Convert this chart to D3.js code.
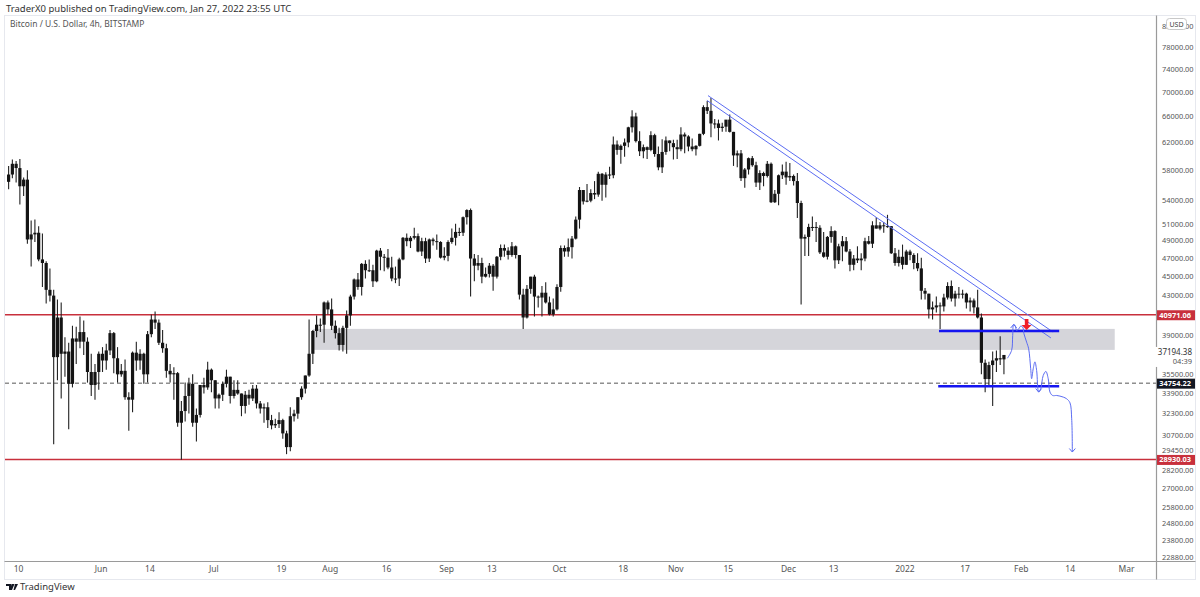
<!DOCTYPE html>
<html>
<head>
<meta charset="utf-8">
<script src="https://cdn.jsdelivr.net/npm/d3@7"></script>
<style>
  body { margin: 0; background: #fff; }
  text { font-family: "Noto Sans", "DejaVu Sans", sans-serif; }
</style>
</head>
<body>
<script>
// ---- data ----
var firstDay = "2021-05-07";   // one daily candle per day from here
// [open, high, low, close]
var ohlc = [
  // May
  [56400,58600,55400,57400],[57400,59500,56900,58900],[58900,59300,56300,58300],[58300,59600,53400,55800],
  [55800,57000,54500,56700],[56700,58000,48600,49100],[49100,51400,46000,49700],[49700,51500,48800,49900],
  [49900,50700,46600,46800],[46800,49800,43800,46400],[46400,46600,42100,43500],[43500,45800,42300,42900],
  [42900,43500,30000,37000],[37000,42500,35000,40700],[40700,42200,33500,37300],[37300,38800,35300,37500],
  [37500,38300,31100,34700],[34700,39900,34400,38700],[38700,39800,36400,38400],[38400,40800,37800,39300],
  [39300,40400,37200,38400],[38400,38800,34800,35700],[35700,37300,33700,34600],[34600,36400,33400,35700],
  [35700,37500,34200,37300],
  // Jun
  [37300,37900,35700,36700],[36700,38200,35900,37600],[37600,39500,37200,39200],[39200,39300,35600,36900],
  [36900,37900,34800,35500],[35500,36400,35300,35800],[35800,36800,33400,33600],[33600,34000,31000,33400],
  [33400,37500,32400,37400],[37400,38400,35800,36700],[36700,37700,35900,37300],[37300,37400,34700,35500],
  [35500,39400,34800,39100],[39100,41000,38800,40500],[40500,41300,39600,40200],[40200,40500,38100,38300],
  [38300,39500,37400,37800],[37800,38200,35200,35800],[35800,36400,34800,35500],[35500,36100,33400,35600],
  [35600,35700,31300,31600],[31600,33300,28900,32500],[32500,34800,31700,33700],[33700,35200,32300,34700],
  [34700,35500,31300,31600],[31600,32700,30200,32200],[32200,34600,32000,34600],[34600,35200,33900,34400],
  [34400,36600,34200,35900],[35900,36000,34000,35000],
  // Jul
  [35000,35000,32700,33500],[33500,33900,32700,33800],[33800,34900,33300,34700],[34700,35900,34400,35300],
  [35300,35300,33100,33700],[33700,35000,33500,34200],[34200,35000,33800,33900],[33900,33900,32100,32900],
  [32900,34100,32300,33800],[33800,34200,33000,33500],[33500,34600,33300,34300],[34300,34600,32700,33100],
  [33100,33300,32300,32700],[32700,33100,31600,32800],[32800,33200,31200,31800],[31800,32200,31100,31400],
  [31400,31900,31200,31500],[31500,32400,31200,31800],[31800,31900,30400,30800],[30800,31000,29300,29800],
  [29800,32800,29500,32100],[32100,32600,31700,32300],[32300,33600,31900,33600],[33600,34500,33400,34300],
  [34300,35400,33900,35400],[35400,40500,35300,37300],[37300,39500,36400,39400],[39400,40900,38800,40000],
  [40000,40600,39300,40000],[40000,42300,38300,42200],[42200,42400,41000,41500],
  // Aug
  [41500,42600,39500,39900],[39900,40400,38700,39200],[39200,39700,37600,38100],[38100,39900,37500,39700],
  [39700,41400,37300,40900],[40900,43000,39900,42800],[42800,44700,42500,44600],[44600,45300,43500,43800],
  [43800,46400,42900,46300],[46300,46700,44700,45600],[45600,46800,45400,45600],[45600,46200,43800,44400],
  [44400,47900,44300,47800],[47800,48100,45600,47100],[47100,47400,45500,47000],[47000,48000,45700,45900],
  [45900,47100,44400,44700],[44700,46000,44200,44700],[44700,47000,43900,46800],[46800,49400,46700,49300],
  [49300,49800,48300,48900],[48900,49500,48100,49300],[49300,50500,49100,49500],[49500,49800,47600,47700],
  [47700,49300,47200,48900],[48900,49300,46400,46900],[46900,49200,46500,49100],[49100,49300,48400,48900],
  [48900,49700,47900,48800],[48800,48900,46900,47000],[47000,48200,46700,47200],
  // Sep
  [47200,49000,46600,48800],[48800,50400,48600,49300],[49300,51000,48400,50000],[50000,50500,49500,49900],
  [49900,51900,49500,51800],[51800,52800,50900,52700],[52700,52900,42800,46900],[46900,47400,44400,46100],
  [46100,47300,45600,46400],[46400,47000,44200,44900],[44900,45900,44800,45200],[45200,46400,44800,46100],
  [46100,46300,43400,44900],[44900,47200,44700,47100],[47100,48500,46700,48100],[48100,48500,47100,47800],
  [47800,48200,46800,47300],[47300,48800,47100,48300],[48300,48400,46900,47300],[47300,47300,42500,43000],
  [43000,43600,39600,40700],[40700,44000,40600,43600],[43600,44900,43100,44900],[44900,45100,40800,42800],
  [42800,42900,41700,42700],[42700,43900,40800,43200],[43200,44300,42100,42200],[42200,42800,40900,41000],
  [41000,42600,40800,41500],[41500,44100,41400,43800],
  // Oct
  [43800,48400,43300,48100],[48100,48400,47100,47700],[47700,49200,47100,48200],[48200,49500,46900,49200],
  [49200,51900,49100,51500],[51500,55700,50400,55300],[55300,55300,53400,53800],[53800,56100,53700,53900],
  [53900,55400,53700,54900],[54900,56500,54100,54700],[54700,57800,54400,57500],[57500,57600,53900,56000],
  [56000,57700,54300,57400],[57400,58500,56800,57300],[57300,62900,56900,61700],[61700,62300,60200,60900],
  [60900,61700,58900,61500],[61500,62600,59900,62000],[62000,64400,61300,64300],[64300,67000,63500,66000],
  [66000,66600,62000,62200],[62200,63700,60000,60700],[60700,61700,59700,61300],[61300,61400,59600,60900],
  [60900,63700,60700,63100],[63100,63300,59900,60300],[60300,61400,58000,58400],[58400,62500,57600,60600],
  [60600,62900,60200,62300],[62300,62300,60700,61900],[61900,62400,59500,61300],
  // Nov
  [61300,62400,59600,61000],[61000,64300,60700,63200],[63200,63500,60400,62900],[62900,63100,60700,61400],
  [61400,62600,60700,61000],[61000,61600,60100,61500],[61500,63300,61400,63300],[63300,67800,63100,67500],
  [67500,68500,66400,66900],[66900,69000,62800,64900],[64900,65600,64100,64900],[64900,65500,62300,64200],
  [64200,65000,63600,64400],[64400,65300,63600,65500],[65500,66300,63500,63600],[63600,63600,58600,60100],
  [60100,60800,58400,60400],[60400,60900,56500,56900],[56900,58300,55600,58100],[58100,59800,57400,59700],
  [59700,60000,58500,58700],[58700,59200,55700,56300],[56300,58000,55300,57600],[57600,57800,55800,57200],
  [57200,59300,57000,58900],[58900,59100,53600,53700],[53700,55300,53600,54800],[54800,57400,53300,57300],
  [57300,58800,56800,57800],[57800,59200,56000,57000],
  // Dec
  [57000,59000,56500,57200],[57200,57400,55900,56500],[56500,57600,51700,53600],[53600,53900,42000,49200],
  [49200,49700,47200,49400],[49400,51000,47200,50600],[50600,51900,50100,50600],[50600,51200,48800,50500],
  [50500,50800,47400,47600],[47600,50000,47000,47100],[47100,49500,46800,49400],[49400,50700,48700,50100],
  [50100,50200,45800,46700],[46700,48600,46300,48300],[48300,49500,46600,48900],[48900,49400,47600,47700],
  [47700,48000,45500,46200],[46200,47300,45600,46900],[46900,48300,46400,46700],[46700,47500,45600,46900],
  [46900,49300,46600,48900],[48900,49500,48500,48600],[48600,51300,48100,50800],[50800,51800,50400,50400],
  [50400,51200,50200,50800],[50800,51200,49900,50700],[50700,52100,50500,50700],[50700,50700,47400,47500],
  [47500,48100,46100,46400],[46400,47900,46000,47100],[47100,48500,45700,46200],
  // Jan
  [46200,47900,46200,47700],[47700,47900,46700,47300],[47300,47500,45700,46400],[46400,47500,45500,45800],
  [45800,47000,42500,43400],[43400,43700,42500,43100],[43100,43100,40600,41500],[41500,42300,40500,41700],
  [41700,42800,41200,41900],[41900,42200,39600,41800],[41800,43100,41300,42700],[42700,44300,42500,43900],
  [43900,44500,42300,42600],[42600,43400,41800,43100],[43100,43800,42600,43100],[43100,43500,42600,43100],
  [43100,43200,41600,42200],[42200,42700,41300,42400],[42400,42600,41100,41700],[41700,43500,40600,40700],
  [40700,41100,35500,36500],[36500,36800,34000,35100],[35100,36600,34600,36300],[36300,37500,32900,36700],
  [36700,37600,35700,36900],[36900,38900,36300,36800],[36800,37200,35500,37194.38]
];

var xTickDates  = ["2021-05-10","2021-06-01","2021-06-14","2021-07-01","2021-07-19","2021-08-01","2021-08-16",
                   "2021-09-01","2021-09-13","2021-10-01","2021-10-18","2021-11-01","2021-11-15","2021-12-01",
                   "2021-12-13","2022-01-01","2022-01-17","2022-02-01","2022-02-14","2022-03-01"];
var xTickLabels = ["10","Jun","14","Jul","19","Aug","16","Sep","13","Oct","18","Nov","15","Dec","13","2022","17","Feb","14","Mar"];

var priceTicks = [82000,78000,74000,70000,66000,62000,58000,54000,51000,49000,47000,45000,43000,39000,
                  35500,33900,32300,30700,29450,28200,27000,25800,24800,23800,22880];

var redLevels = [40971.06, 28930.03];
var dashedLevel = 34754.22;
var lastPrice = 37194.38;
var lastPriceTimer = "04:39";

var zoneDates = ["2021-07-27T12:00", "2022-02-26T00:00"];
var zonePrices = [39600, 37650];

var trendUpper = [["2021-11-09T17:00", 69400], ["2022-02-09T14:00", 39300]];
var trendLower = [["2021-11-09T10:00", 68600], ["2022-02-09T00:00", 38750]];

var supportUpper = [["2022-01-10T05:00", 39400], ["2022-02-11T05:00", 39400]];
var supportLower = [["2022-01-10T00:00", 34500], ["2022-02-11T05:00", 34500]];

var projection = [
  ["2022-01-28T10:00",36900],["2022-01-29T13:00",37600],["2022-01-29T20:00",38980],["2022-01-30T02:00",40020],
  ["2022-01-30T12:00",39920],["2022-01-30T21:00",39450],["2022-01-31T10:00",39600],["2022-01-31T23:00",39860],
  ["2022-02-01T12:00",39770],["2022-02-01T20:00",39140],["2022-02-02T13:00",38360],["2022-02-03T02:00",37750],
  ["2022-02-03T15:00",35980],["2022-02-03T21:00",35130],["2022-02-04T07:00",35980],["2022-02-04T18:00",36580],
  ["2022-02-05T05:00",35830],["2022-02-05T18:00",34020],["2022-02-06T07:00",34290],["2022-02-06T23:00",35400],
  ["2022-02-07T16:00",35750],["2022-02-08T07:00",35130],["2022-02-08T18:00",34020],["2022-02-09T11:00",33740],
  ["2022-02-10T13:00",33740],["2022-02-11T10:00",33690],["2022-02-12T07:00",33610],["2022-02-13T05:00",33470],
  ["2022-02-14T02:00",33150],["2022-02-14T13:00",31900],["2022-02-14T17:00",29450]
];
var projectionArrows = [[3, "up"], [17, "down"], [30, "down"]];

var sellMarker = ["2022-02-02T13:00", 39500];

// ---- setup ----
var width = 1200, height = 597;
var parseT = function(s){ return s.length == 10 ? d3.utcParse("%Y-%m-%d")(s) : d3.utcParse("%Y-%m-%dT%H:%M")(s); };

var svg = d3.select("body").append("svg")
            .attr("width", width).attr("height", height)
            .style("display", "block");

var plotLeft = 5, plotRight = 1156, plotTop = 15, plotBottom = 561;

var x = d3.scaleUtc()
          .domain([parseT("2021-05-10"), parseT("2022-03-01")])
          .range([18, 1126]);

var y = d3.scaleLog()
          .domain([22880, 78000])
          .range([557, 47]);

var trendColor = "#5b6cf2";
var red = "#c8303c";

svg.append("rect").attr("width", width).attr("height", height).attr("fill", "#fff");

// header
svg.append("text").attr("x", 6).attr("y", 12)
   .attr("font-size", "9.5px").attr("fill", "#333")
   .text("TraderX0 published on TradingView.com, Jan 27, 2022 23:55 UTC");

// panel frame
svg.append("rect")
   .attr("x", 4.5).attr("y", 15.5).attr("width", 1191).attr("height", 564)
   .attr("fill", "none").attr("stroke", "#e6e8ee");

svg.append("defs").append("clipPath").attr("id", "plotclip")
   .append("rect").attr("x", plotLeft).attr("y", plotTop)
   .attr("width", plotRight - plotLeft).attr("height", plotBottom - plotTop);

var plot = svg.append("g").attr("clip-path", "url(#plotclip)");

svg.append("text").attr("x", 10).attr("y", 27)
   .attr("font-size", "8.5px").attr("fill", "#555")
   .text("Bitcoin / U.S. Dollar, 4h, BITSTAMP");

// grey zone
plot.append("rect")
    .attr("x", x(parseT(zoneDates[0])))
    .attr("width", x(parseT(zoneDates[1])) - x(parseT(zoneDates[0])))
    .attr("y", y(zonePrices[0]))
    .attr("height", y(zonePrices[1]) - y(zonePrices[0]))
    .attr("fill", "#d5d5da");

// horizontal levels
plot.selectAll(".redlevel").data(redLevels).enter()
    .append("line").attr("class", "redlevel")
    .attr("x1", plotLeft).attr("x2", plotRight)
    .attr("y1", function(d){ return y(d); }).attr("y2", function(d){ return y(d); })
    .attr("stroke", red).attr("stroke-width", 1.5);

plot.append("line")
    .attr("x1", plotLeft).attr("x2", plotRight)
    .attr("y1", y(dashedLevel)).attr("y2", y(dashedLevel))
    .attr("stroke", "#555").attr("stroke-width", 1)
    .attr("stroke-dasharray", "4,3");

// candles
var day = 864e5;
var t0 = parseT(firstDay).getTime();
var cx = function(i){ return x(new Date(t0 + i * day + day / 2)); };
var candles = plot.append("g").selectAll("g").data(ohlc).enter().append("g");

candles.append("line")
    .attr("x1", function(d, i){ return cx(i); })
    .attr("x2", function(d, i){ return cx(i); })
    .attr("y1", function(d){ return y(d[1]); })
    .attr("y2", function(d){ return y(d[2]); })
    .attr("stroke", "#222").attr("stroke-width", 1.1);

candles.append("rect")
    .attr("x", function(d, i){ return cx(i) - 1.6; })
    .attr("width", 3.2)
    .attr("y", function(d){ return y(Math.max(d[0], d[3])); })
    .attr("height", function(d){ return Math.max(1, Math.abs(y(d[0]) - y(d[3]))); })
    .attr("fill", "#141414");

// trend lines
[trendUpper, trendLower].forEach(function(t){
  plot.append("line")
      .attr("x1", x(parseT(t[0][0]))).attr("y1", y(t[0][1]))
      .attr("x2", x(parseT(t[1][0]))).attr("y2", y(t[1][1]))
      .attr("stroke", trendColor).attr("stroke-width", 1);
});

// blue support / resistance
[supportUpper, supportLower].forEach(function(t){
  plot.append("line")
      .attr("x1", x(parseT(t[0][0]))).attr("y1", y(t[0][1]))
      .attr("x2", x(parseT(t[1][0]))).attr("y2", y(t[1][1]))
      .attr("stroke", "#1515f0").attr("stroke-width", 2.5);
});

// projected path
var line = d3.line()
   .x(function(d){ return x(parseT(d[0])); })
   .y(function(d){ return y(d[1]); })
   .curve(d3.curveCatmullRom.alpha(0.5));

plot.append("path").datum(projection)
    .attr("d", line)
    .attr("fill", "none").attr("stroke", trendColor).attr("stroke-width", 1);

projectionArrows.forEach(function(a){
  var p = projection[a[0]];
  var px = x(parseT(p[0])), py = y(p[1]);
  var s = a[1] == "up" ? 1 : -1;
  plot.append("path")
      .attr("d", "M" + (px - 3) + "," + (py + 3.5 * s) + "L" + px + "," + py + "L" + (px + 3) + "," + (py + 3.5 * s))
      .attr("fill", "none").attr("stroke", trendColor).attr("stroke-width", 1);
});

// red sell arrow
(function(){
  var px = x(parseT(sellMarker[0])), py = y(sellMarker[1]);
  plot.append("path")
      .attr("d", "M" + px + "," + py + "l-5,-5h3.2v-6h3.6v6h3.2z")
      .attr("fill", "#f01e28");
})();

// axes frame lines
svg.append("line").attr("x1", 4.5).attr("x2", 1195.5).attr("y1", 561.5).attr("y2", 561.5)
   .attr("stroke", "#9a9a9a").attr("stroke-width", 1.2);
svg.append("line").attr("x1", 1156.5).attr("x2", 1156.5).attr("y1", 15.5).attr("y2", 579.5)
   .attr("stroke", "#9a9a9a").attr("stroke-width", 1.2);

// time axis
var xAxis = d3.axisBottom(x)
    .tickValues(xTickDates.map(parseT))
    .tickFormat(function(d, i){ return xTickLabels[i]; })
    .tickSize(0).tickPadding(0);
var gx = svg.append("g").attr("transform", "translate(0,566)").call(xAxis);
gx.select(".domain").remove();
gx.selectAll("text").attr("font-size", "8.5px").attr("fill", "#555")
  .attr("dy", "0.71em").style("font-family", "'Noto Sans', sans-serif");

// price axis
var yAxis = d3.axisRight(y)
    .tickValues(priceTicks)
    .tickFormat(function(d){ return d.toFixed(2); })
    .tickSize(0).tickPadding(0);
var gy = svg.append("g").attr("transform", "translate(1162,0)").call(yAxis);
gy.select(".domain").remove();
gy.selectAll("text").attr("font-size", "7.4px").attr("fill", "#555")
  .attr("dy", function(d){ return d == 29450 ? "0.1em" : "0.32em"; })
  .style("font-family", "'Noto Sans', sans-serif");

// USD badge
svg.append("rect").attr("x", 1166.5).attr("y", 18.5).attr("width", 20).attr("height", 11).attr("rx", 3)
   .attr("fill", "#fff").attr("stroke", "#c8c8c8");
svg.append("text").attr("x", 1176.5).attr("y", 26.5).attr("text-anchor", "middle")
   .attr("font-size", "7px").attr("fill", "#444").text("USD");

// level badges
function badge(price, fill){
  var g = svg.append("g").attr("transform", "translate(1157," + y(price) + ")");
  g.append("rect").attr("x", 0).attr("y", -4.5).attr("width", 38).attr("height", 10).attr("fill", fill);
  g.append("text").attr("x", 34).attr("y", 3).attr("text-anchor", "end")
   .attr("font-size", "7.4px").attr("font-weight", "bold").attr("fill", "#fff")
   .text(price.toFixed(2));
}
redLevels.forEach(function(p){ badge(p, red); });
badge(dashedLevel, "#131722");

// last price label
(function(){
  var py = y(lastPrice);
  var g = svg.append("g").attr("transform", "translate(1150," + py + ")");
  g.append("rect").attr("x", 0).attr("y", -8).attr("width", 45).attr("height", 20).attr("fill", "#fff");
  g.append("text").attr("x", 42).attr("y", 0).attr("text-anchor", "end")
   .attr("font-size", "8px").attr("fill", "#333").text(lastPrice.toFixed(2));
  g.append("text").attr("x", 42).attr("y", 9).attr("text-anchor", "end")
   .attr("font-size", "7.5px").attr("fill", "#555").text(lastPriceTimer);
})();

// footer logo
var logo = svg.append("g").attr("transform", "translate(6,584)");
logo.append("path").attr("d", "M0,0h5v6h-2v-4h-3z M5.5,0h3l-2.5,6h-2z").attr("fill", "#131722");
logo.append("path").attr("d", "M9,0h3l-3,6h-1.5z").attr("fill", "#131722");
svg.append("text").attr("x", 20).attr("y", 590)
   .attr("font-size", "9.5px").attr("fill", "#333").text("TradingView");
</script>
</body>
</html>
